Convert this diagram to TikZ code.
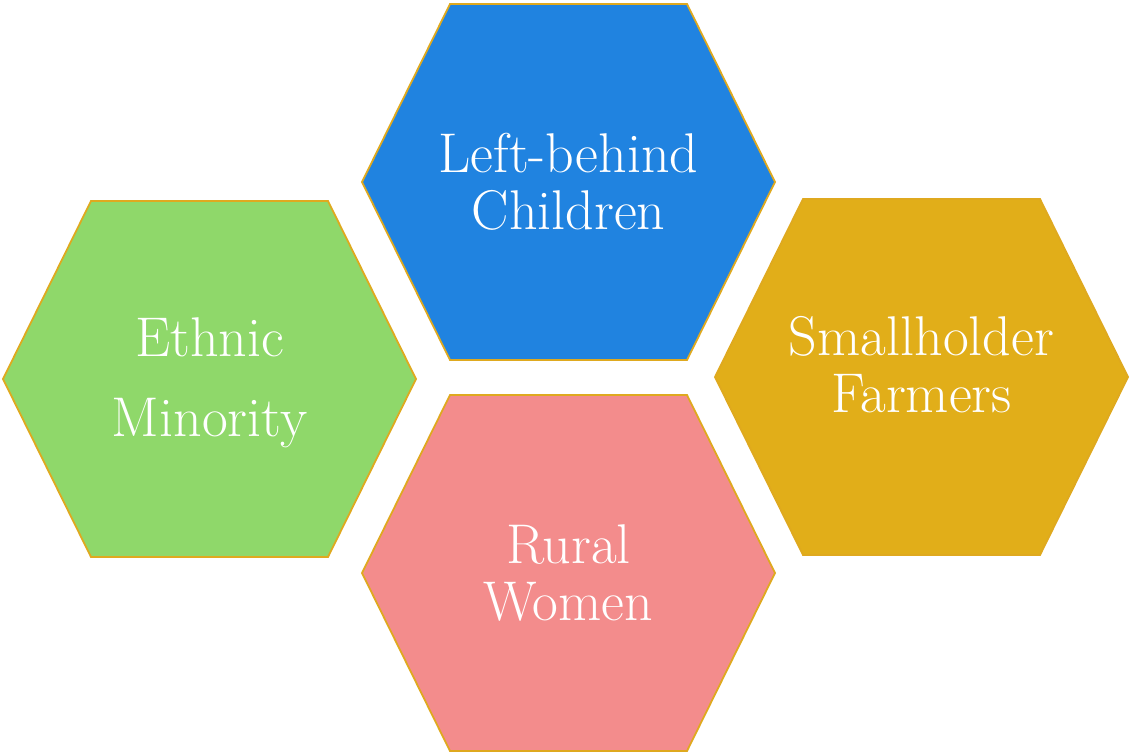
\documentclass[tikz,border=0pt]{standalone}
\usepackage{tikz}
\usetikzlibrary{positioning,backgrounds}

\definecolor{cellblue}{HTML}{2083E0}
\definecolor{cellgreen}{HTML}{8FD86A}
\definecolor{cellgold}{HTML}{E1AE19}
\definecolor{cellpink}{HTML}{F38C8C}
\definecolor{edgegold}{HTML}{DFA91F}

\begin{document}
\begin{tikzpicture}[
    x=1pt, y=-1pt,
    hexcell/.style={draw=edgegold, line width=1.8pt, line join=miter},
    hexpath/.style={insert path={++(-118.5,-178) -- ++(237,0) -- ++(88,178) -- ++(-88,178) -- ++(-237,0) -- ++(-88,-178) -- cycle}},
    label/.style={text=white, align=center, inner sep=0pt, font=\fontsize{56}{57}\selectfont}
]
\useasboundingbox (0,0) rectangle (1130,753);

% hexagon centres
\coordinate (lbc) at (568.5,182);
\coordinate (etm) at (209.5,379);
\coordinate (shf) at (921.5,377);
\coordinate (rwm) at (568.5,573);

% text
\node[label] (lbc_text) at (lbc) {Left-behind\\Children};
\node[label, font=\fontsize{56}{80}\selectfont, yshift=-4pt] (etm_text) at (etm) {Ethnic\\Minority};
\node[label, yshift=12pt] (shf_text) at (shf) {Smallholder\\Farmers};
\node[label] (rwm_text) at (rwm) {Rural\\Women};

% hexagons
\begin{scope}[on background layer]
\draw[hexcell, fill=cellblue] (lbc) [hexpath];
\draw[hexcell, fill=cellgreen] (etm) [hexpath];
\draw[hexcell, fill=cellgold] (shf) [hexpath];
\draw[hexcell, fill=cellpink] (rwm) [hexpath];
\end{scope}

\end{tikzpicture}
\end{document}
